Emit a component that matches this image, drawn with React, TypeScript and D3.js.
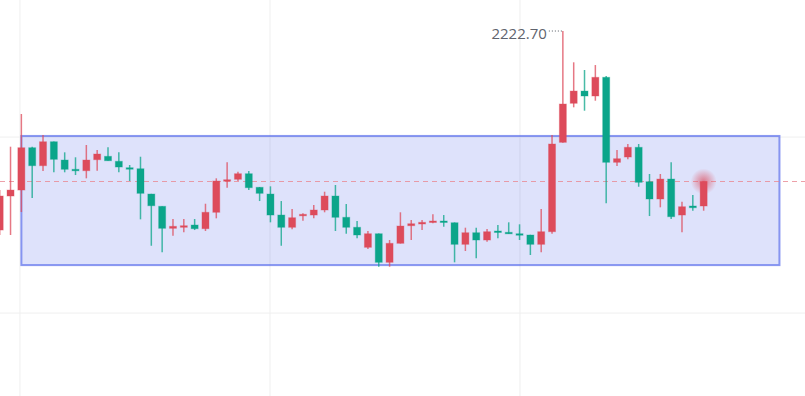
import { useEffect, useRef } from "react";
import * as d3 from "d3";

// daily candles, oldest first (open, high, low, close)
const opens = [
  2177.47, 2185.2, 2186.56, 2196.18, 2192.09, 2197.54, 2193.38, 2191.27, 2190.95, 2193.45,
  2194.22, 2193.09, 2191.63, 2191.4, 2185.65, 2182.86, 2177.86, 2178.09, 2178.61, 2177.77,
  2181.5, 2188.61, 2189.0, 2190.27, 2187.18, 2185.65, 2180.88, 2178.09, 2180.72, 2180.88,
  2182.02, 2185.2, 2180.36, 2178.09, 2173.54, 2176.63, 2170.13, 2174.45, 2178.45, 2178.84,
  2179.22, 2179.52, 2179.13, 2174.22, 2176.86, 2175.2, 2177.25, 2176.95, 2176.63, 2176.34,
  2174.22, 2177.09, 2197.4, 2206.27, 2209.06, 2207.93, 2212.18, 2192.86, 2194.06, 2196.27,
  2188.45, 2184.52, 2189.06, 2180.88, 2182.93, 2182.93,
];
const highs = [
  2186.56, 2196.41, 2203.84, 2196.4, 2199.06, 2197.6, 2195.13, 2194.0, 2196.79, 2195.65,
  2196.27, 2195.13, 2192.25, 2194.13, 2185.7, 2182.9, 2179.97, 2179.97, 2179.97, 2183.45,
  2189.22, 2192.86, 2190.72, 2190.88, 2187.25, 2187.4, 2184.06, 2182.25, 2181.27, 2183.15,
  2186.18, 2187.7, 2183.38, 2179.52, 2177.25, 2176.7, 2175.2, 2181.5, 2179.75, 2179.75,
  2181.04, 2180.88, 2179.2, 2178.0, 2178.0, 2177.7, 2178.61, 2179.22, 2178.77, 2176.4,
  2182.25, 2199.06, 2222.7, 2215.59, 2213.84, 2214.97, 2212.47, 2195.65, 2197.02, 2197.02,
  2190.2, 2190.2, 2192.86, 2183.9, 2185.43, 2188.5,
];
const lows = [
  2176.34, 2176.34, 2181.56, 2184.75, 2190.88, 2190.59, 2190.59, 2189.97, 2189.22, 2190.95,
  2193.2, 2190.59, 2188.61, 2179.9, 2173.9, 2172.4, 2176.18, 2176.95, 2177.47, 2177.25,
  2180.13, 2187.09, 2188.61, 2186.56, 2184.06, 2179.22, 2173.9, 2177.63, 2179.59, 2180.13,
  2181.5, 2177.25, 2176.63, 2175.59, 2173.15, 2169.13, 2169.13, 2174.4, 2175.2, 2177.47,
  2179.0, 2178.22, 2170.13, 2172.7, 2171.04, 2174.81, 2175.59, 2176.6, 2175.2, 2171.79,
  2172.4, 2176.63, 2197.3, 2205.36, 2204.59, 2206.86, 2183.54, 2192.02, 2193.54, 2187.31,
  2180.65, 2182.63, 2179.97, 2176.95, 2181.86, 2181.86,
];
const closes = [
  2185.2, 2186.56, 2196.18, 2192.09, 2197.54, 2193.54, 2191.27, 2190.95, 2193.38, 2194.75,
  2193.22, 2191.79, 2191.4, 2185.81, 2182.99, 2177.86, 2178.31, 2178.45, 2177.77, 2181.5,
  2188.61, 2188.9, 2190.27, 2187.09, 2185.81, 2180.88, 2178.09, 2180.27, 2181.04, 2182.02,
  2185.2, 2180.36, 2178.09, 2176.34, 2176.63, 2170.13, 2174.45, 2178.38, 2178.9, 2179.22,
  2179.52, 2179.22, 2174.22, 2176.86, 2175.2, 2177.09, 2176.95, 2176.63, 2176.34, 2174.22,
  2177.09, 2197.02, 2206.11, 2209.06, 2207.93, 2212.18, 2192.86, 2193.68, 2196.27, 2188.31,
  2184.52, 2189.06, 2180.5, 2182.77, 2182.54, 2188.5,
];

// consolidation box: from candle index to future index, price band
const boxIndex = [2, 72];
const boxPrice = [2169.5, 2198.85];

// grid positions (index units / price units), no labels shown
const gridX = [1.87, 24.96, 48.04];
const gridY = [2198.6, 2158.6];

const UP = "#dd4b5b";
const DOWN = "#0ba58a";

type Candle = { i: number; o: number; h: number; l: number; c: number };

export default function App() {
  const svgRef = useRef<SVGSVGElement | null>(null);

  useEffect(() => {
    if (!svgRef.current) return;
    const width = 805;
    const height = 396;

    const data: Candle[] = opens.map((o, i) => ({ i, o, h: highs[i], l: lows[i], c: closes[i] }));

    const svg = d3.select(svgRef.current);
    svg.selectAll("*").remove();
    svg.attr("width", width).attr("height", height);

    const x = d3.scaleLinear().domain([0, 65]).range([-0.3, 703.65]);
    const y = d3.scaleLinear().domain([2150, 2230]).range([350.9, -1.1]);
    const bw = 7;

    svg.append("rect").attr("width", width).attr("height", height).attr("fill", "#fff");

    const grid = svg.append("g").attr("stroke", "#efefef").attr("stroke-width", 1);
    grid.selectAll("line.gx").data(gridX).enter().append("line")
      .attr("x1", d => x(d)).attr("x2", d => x(d))
      .attr("y1", 0).attr("y2", height);
    grid.selectAll("line.gy").data(gridY).enter().append("line")
      .attr("x1", 0).attr("x2", width)
      .attr("y1", d => y(d)).attr("y2", d => y(d));

    svg.append("rect")
      .attr("x", x(boxIndex[0]))
      .attr("y", y(boxPrice[1]))
      .attr("width", x(boxIndex[1]) - x(boxIndex[0]))
      .attr("height", y(boxPrice[0]) - y(boxPrice[1]))
      .attr("fill", "rgba(90,110,235,0.2)")
      .attr("stroke", "rgba(90,110,235,0.7)")
      .attr("stroke-width", 2);

    const last = data[data.length - 1];
    svg.append("line")
      .attr("x1", 0).attr("x2", width)
      .attr("y1", y(last.c)).attr("y2", y(last.c))
      .attr("stroke", "#e88892").attr("stroke-opacity", 0.8)
      .attr("stroke-dasharray", "5,4");

    const g = svg.append("g");
    const color = (d: Candle) => (d.c >= d.o ? UP : DOWN);

    g.selectAll("line.wick").data(data).enter().append("line")
      .attr("x1", d => x(d.i)).attr("x2", d => x(d.i))
      .attr("y1", d => y(d.h)).attr("y2", d => y(d.l))
      .attr("stroke", color).attr("stroke-width", 1.5).attr("stroke-opacity", 0.75);

    g.selectAll("rect.body").data(data).enter().append("rect")
      .attr("x", d => x(d.i) - bw / 2)
      .attr("y", d => y(Math.max(d.o, d.c)))
      .attr("width", bw)
      .attr("height", d => Math.max(1.5, Math.abs(y(d.o) - y(d.c))))
      .attr("fill", color)
      .attr("stroke", color).attr("stroke-opacity", 0.35).attr("stroke-width", 1);

    // glow on latest close
    const grad = svg.append("defs").append("radialGradient").attr("id", "glow");
    grad.append("stop").attr("offset", "0%").attr("stop-color", UP).attr("stop-opacity", 0.7);
    grad.append("stop").attr("offset", "50%").attr("stop-color", UP).attr("stop-opacity", 0.35);
    grad.append("stop").attr("offset", "100%").attr("stop-color", UP).attr("stop-opacity", 0);
    svg.append("circle")
      .attr("cx", x(last.i)).attr("cy", y(last.c)).attr("r", 13)
      .attr("fill", "url(#glow)");

    // max high marker
    const top = data.reduce((a, b) => (b.h > a.h ? b : a));
    svg.append("line")
      .attr("x1", x(top.i) - 14).attr("x2", x(top.i))
      .attr("y1", y(top.h)).attr("y2", y(top.h))
      .attr("stroke", "#555a63").attr("stroke-width", 1)
      .attr("stroke-dasharray", "1,2");
    svg.append("text")
      .attr("x", x(top.i) - 16)
      .attr("y", y(top.h) + 8)
      .attr("text-anchor", "end")
      .attr("font-family", "'Open Sans', sans-serif")
      .attr("font-size", 15)
      .attr("fill", "#5f636d")
      .text(top.h.toFixed(2));
  }, []);

  return <svg ref={svgRef} style={{ position: "absolute", left: 0, top: 0 }} />;
}
